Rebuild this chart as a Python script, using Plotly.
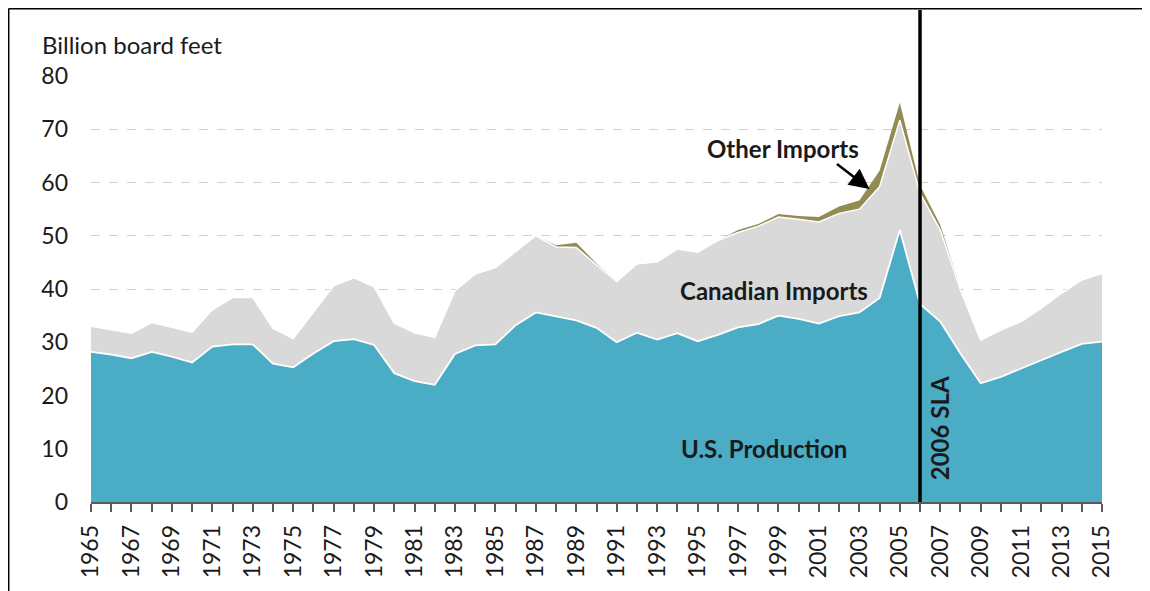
import plotly.graph_objects as go

# 数据 (billion board feet)
years = list(range(1965, 2016))

us_production = [28.2, 27.7, 27.0, 28.2, 27.3, 26.2, 29.2, 29.6, 29.6, 26.0,
                 25.3, 27.9, 30.2, 30.6, 29.5, 24.2, 22.7, 22.0, 27.8, 29.4,
                 29.6, 33.2, 35.6, 34.8, 34.1, 32.7, 30.0, 31.8, 30.5, 31.7,
                 30.2, 31.4, 32.8, 33.4, 35.0, 34.4, 33.5, 34.9, 35.6, 38.3,
                 51.1, 37.2, 33.9, 27.9, 22.3, 23.5, 25.1, 26.7, 28.2, 29.7,
                 30.1]

canadian_imports = [4.8, 4.7, 4.7, 5.5, 5.5, 5.7, 6.9, 8.8, 8.8, 6.6,
                    5.4, 7.8, 10.4, 11.5, 10.9, 9.4, 9.1, 8.9, 11.9, 13.4,
                    14.4, 13.8, 14.4, 13.1, 13.7, 11.8, 11.4, 12.9, 14.6, 15.8,
                    16.7, 17.7, 17.8, 18.4, 18.5, 18.7, 19.1, 19.3, 19.4, 20.9,
                    20.6, 20.8, 17.2, 11.9, 8.1, 8.8, 8.8, 9.7, 11.0, 12.0,
                    12.8]

other_imports = [0, 0, 0, 0, 0, 0, 0, 0, 0, 0,
                 0, 0, 0, 0, 0, 0, 0, 0, 0, 0,
                 0, 0, 0, 0.3, 0.9, 0.3, 0, 0, 0, 0,
                 0, 0, 0.5, 0.4, 0.6, 0.6, 0.9, 1.3, 1.6, 3.0,
                 3.3, 1.5, 0.9, 0.2, 0, 0, 0, 0, 0, 0,
                 0]

tick_labels = [str(y) if (y - 1965) % 2 == 0 else "" for y in years]

FONT = "Lato"
TXT = "#1a1a1a"

fig = go.Figure()

fig.add_trace(go.Scatter(x=years, y=us_production, stackgroup="one", mode="lines",
                         name="U.S. Production", fillcolor="#4BACC6",
                         line=dict(color="white", width=1.8)))
fig.add_trace(go.Scatter(x=years, y=canadian_imports, stackgroup="one", mode="lines",
                         name="Canadian Imports", fillcolor="#D9D9D9",
                         line=dict(color="white", width=1.5)))
fig.add_trace(go.Scatter(x=years, y=other_imports, stackgroup="one", mode="lines",
                         name="Other Imports", fillcolor="#948A54",
                         line=dict(color="#948A54", width=0)))

# 2006 SLA 竖线
fig.add_shape(type="line", xref="x", yref="paper", x0=2006, x1=2006, y0=0, y1=1.155,
              line=dict(color="black", width=3.5), layer="above")

# 外框 (左边和上边)
fig.add_shape(type="line", xref="paper", yref="paper", x0=-0.0814, x1=-0.0814,
              y0=-0.25, y1=1.1585, line=dict(color="black", width=1.5))
fig.add_shape(type="line", xref="paper", yref="paper", x0=-0.0814, x1=1.06,
              y0=1.1585, y1=1.1585, line=dict(color="black", width=2))

bold = dict(family=FONT, size=24, color=TXT, weight="bold")
fig.add_annotation(x=1999.2, y=66.3, text="Other Imports", showarrow=False, font=bold)
fig.add_annotation(x=1998.8, y=39.8, text="Canadian Imports", showarrow=False, font=bold)
fig.add_annotation(x=1998.3, y=10.1, text="U.S. Production", showarrow=False, font=bold)
fig.add_annotation(x=2007.0, y=13.9, text="2006 SLA", showarrow=False, textangle=-90, font=bold)
fig.add_annotation(x=2003.5, y=58.8, text="", showarrow=True, arrowhead=2, arrowsize=1.6,
                   arrowwidth=2.5, arrowcolor="black", ax=-34, ay=-26)

fig.add_annotation(xref="paper", yref="paper", x=-0.0504, y=1.0728, text="Billion board feet",
                   showarrow=False, xanchor="left", yanchor="middle",
                   font=dict(family=FONT, size=24, color=TXT))

# 页面 body 有 8px 边距，所以图宽高各减 8
fig.update_layout(
    width=1142, height=583,
    margin=dict(l=83, r=48, t=68, b=89),
    paper_bgcolor="white", plot_bgcolor="white",
    showlegend=False,
    font=dict(family=FONT, color=TXT),
    xaxis=dict(range=[1965, 2015], tickmode="array", tickvals=years, ticktext=tick_labels,
               tickangle=-90, ticks="outside", ticklen=8, tickwidth=1.5, tickcolor="#595959",
               showline=True, linecolor="#595959", linewidth=1.5, showgrid=False,
               tickfont=dict(family=FONT, size=23, color=TXT), ticklabelstandoff=4),
    yaxis=dict(range=[0, 80], tickvals=[0, 10, 20, 30, 40, 50, 60, 70, 80],
               showgrid=True, gridcolor="#D0D0D0", griddash="dash", gridwidth=1,
               zeroline=False, showline=False, ticks="",
               tickfont=dict(family=FONT, size=23, color=TXT), ticklabelstandoff=22),
)

fig.write_html("out.html")
